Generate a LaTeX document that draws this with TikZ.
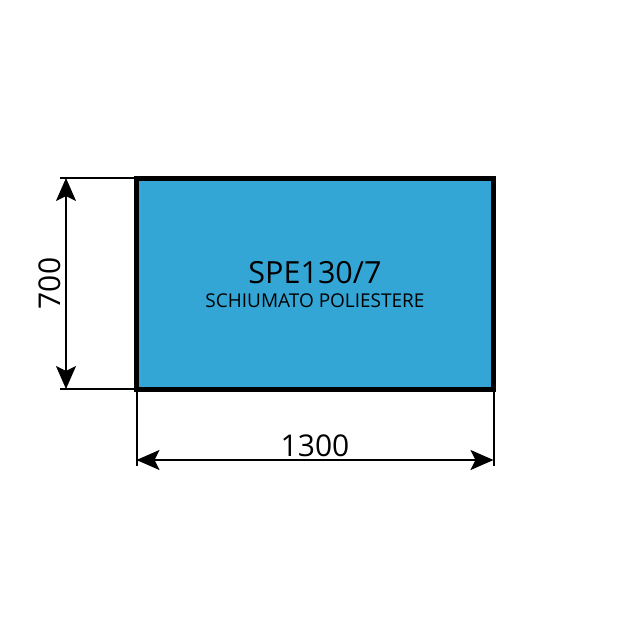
\documentclass[tikz,border=0pt]{standalone}
\usepackage{fontspec}
\setmainfont{Open Sans}
\usetikzlibrary{arrows.meta, positioning}
\definecolor{panelblue}{RGB}{51,166,214}
\tikzset{
x=1pt, y=-1pt, % one unit per pixel of the sketch
>={Stealth[length=23pt, width=20pt, inset=5pt]}, % filled arrow heads
panel/.style={draw=black, line width=5pt, fill=panelblue, minimum width=357pt, minimum height=211pt, inner sep=0pt}, % the foam sheet
dimline/.style={<->, line width=2pt}, % the measuring lines
extline/.style={line width=2pt}, % the extension lines
measure/.style={font=\fontsize{30}{32}\selectfont}, % the numbers
}

\begin{document}
\begin{tikzpicture}
      \useasboundingbox (0,0) rectangle (640,640);
      \node[panel] (sheet) at (315,283.5) {};
      \node[font=\fontsize{30.5}{32}\selectfont, anchor=base] (code) at (315,283) {SPE130/7};
      \node[font=\fontsize{19}{21}\selectfont, anchor=base] (material) at (315,307) {SCHIUMATO POLIESTERE};

      % extension lines
      \coordinate (tl) at (60,178);
      \coordinate (bl) at (60,389);
      \coordinate (lb) at (136.5,466);
      \coordinate (rb) at (493.5,466);
      \draw[extline] (tl) -- (136.5,178);
      \draw[extline] (bl) -- (136.5,389);
      \draw[extline] (136.5,389) -- (lb);
      \draw[extline] (493.5,389) -- (rb);

      % measures
      \coordinate (vtop) at (66,178);
      \coordinate (vbot) at (66,389);
      \coordinate (hleft) at (136.5,460);
      \coordinate (hright) at (493.5,460);
      \draw[dimline] (vtop) -- (vbot) node[midway, measure, rotate=90, anchor=south, yshift=1pt] (height) {700};
      \draw[dimline] (hleft) -- (hright) node[midway, measure, above=-1pt] (width) {1300};
    \end{tikzpicture}
\end{document}
